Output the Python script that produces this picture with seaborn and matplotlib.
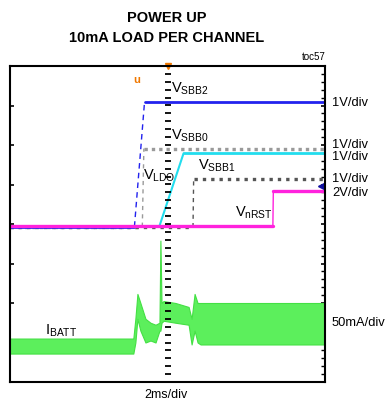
import numpy as np
import pandas as pd
import matplotlib
matplotlib.use('Agg')
import matplotlib.pyplot as plt
import seaborn as sns

sns.set_style('white')
plt.rcParams['font.family'] = ['Liberation Sans', 'DejaVu Sans']
plt.rcParams['mathtext.default'] = 'regular'
plt.rcParams['text.color'] = 'black'

# time in ms (2ms/div, 10 div), level in divisions (0 = bottom, 8 = top)
t_sbb2 = [0, 7.90, 8.54, 20]
v_sbb2 = [3.93, 3.93, 7.08, 7.08]

t_sbb0 = [0, 8.40, 8.50, 20]
v_sbb0 = [3.93, 3.93, 5.91, 5.91]

t_ldo = [0, 9.49, 11.02, 20]
v_ldo = [3.95, 3.95, 5.79, 5.79]

t_sbb1 = [0, 11.62, 11.66, 20]
v_sbb1 = [3.92, 3.92, 5.13, 5.13]

t_nrst = [0, 16.69, 16.72, 20]
v_nrst = [3.94, 3.94, 4.84, 4.84]

# IBATT noise band (lower / upper edge)
t_ib = [0, 7.83, 7.96, 8.09, 8.28, 8.60, 8.92, 9.24, 9.49, 9.55, 9.62, 9.75,
        10.51, 11.34, 11.53, 11.72, 11.91, 12.10, 20]
lo_ib = [0.72, 0.72, 1.00, 1.60, 1.30, 1.00, 1.05, 1.00, 1.30, 1.30, 1.50, 1.55,
         1.50, 1.45, 0.95, 1.30, 1.00, 0.95, 0.95]
hi_ib = [1.10, 1.10, 1.60, 2.23, 2.00, 1.60, 1.50, 1.45, 1.50, 3.58, 2.00, 2.05,
         2.00, 1.90, 1.60, 2.23, 2.00, 2.00, 2.00]

trig_t = 10
ch_arrow = (19.75, 4.97)

W, H = 388, 408
fig = plt.figure(figsize=(W / 100, H / 100), dpi=100)
ax = fig.add_axes([10 / W, 1 - 382 / H, 315 / W, 316 / H])


def trace(t, v, color, lw, ls='-', edge_ls='-', edge_lw=1.0):
    df = pd.DataFrame({'t': t, 'v': v})
    sns.lineplot(data=df.iloc[:2], x='t', y='v', color=color, lw=lw, ls=ls,
                 estimator=None, ax=ax)
    sns.lineplot(data=df.iloc[1:3], x='t', y='v', color=color, lw=edge_lw,
                 ls=edge_ls, estimator=None, ax=ax)
    sns.lineplot(data=df.iloc[2:], x='t', y='v', color=color, lw=lw, ls=ls,
                 estimator=None, ax=ax)


# green current trace
ax.fill_between(t_ib, lo_ib, hi_ib, color='#5cef5c', lw=0.8, edgecolor='#44e044')

trace(t_sbb0, v_sbb0, '#9a9a9a', 2.4, ls=(0, (1, 1.2)), edge_ls=(0, (3, 3)))
trace(t_sbb1, v_sbb1, '#555555', 2.4, ls=(0, (1, 1.5)), edge_ls=(0, (3, 3)))
trace(t_sbb2, v_sbb2, '#2222ee', 2.0, edge_ls=(0, (4, 3)))
trace(t_ldo, v_ldo, '#22ddee', 2.0, edge_lw=1.5)
trace(t_nrst, v_nrst, '#ff22dd', 2.4, edge_lw=1.0)

# scope center graticule
ys = np.arange(0.2, 8, 0.2)
ax.plot(np.full(len(ys), trig_t), ys, ls='none', marker='_', ms=4, mew=1.3,
        color='black')
ax.plot([trig_t], [8], marker='v', ms=5, color='#f07800', clip_on=False)
ax.plot([ch_arrow[0]], [ch_arrow[1]], marker='<', ms=4, color='#1010a0')

ax.set_xlim(0, 20)
ax.set_ylim(0, 8)
ax.set_xticks([])
ax.set_yticks(np.arange(1, 8))
ax.set_yticks(np.arange(0.2, 8, 0.2), minor=True)
ax.tick_params(which='major', left=True, right=True, direction='in', length=3,
               width=1.2, labelleft=False, color='black')
ax.tick_params(which='minor', left=False, right=True, direction='in', length=3,
               width=1, color='black')
ax.set_xlabel('')
ax.set_ylabel('')
for s in ax.spines.values():
    s.set_color('black')
    s.set_linewidth(1.5)


def ftext(xp, yp, s, **kw):
    fig.text(xp / W, 1 - yp / H, s, **kw)


ftext(167, 18, 'POWER UP', ha='center', va='center', fontsize=10.5, fontweight='bold')
ftext(167, 38, '10mA LOAD PER CHANNEL', ha='center', va='center', fontsize=10.5,
      fontweight='bold')
ftext(326, 57, 'toc57', ha='right', va='center', fontsize=7)
ftext(166, 395, '2ms/div', ha='center', va='center', fontsize=9)

for yp, s in [(103, '1V/div'), (145, '1V/div'), (157, '1V/div'), (179, '1V/div'),
              (193, '2V/div'), (323, '50mA/div')]:
    ftext(332, yp, s, ha='left', va='center', fontsize=9.3)

for xp, yp, s in [(171, 93, r'$V_{SBB2}$'), (171, 140, r'$V_{SBB0}$'),
                  (143, 180, r'$V_{LDO}$'), (198, 170, r'$V_{SBB1}$'),
                  (235, 217, r'$V_{nRST}$'), (45, 335, r'$I_{BATT}$')]:
    ftext(xp, yp, s, ha='left', va='baseline', fontsize=10.5)

ftext(137, 80, 'u', ha='center', va='center', fontsize=8, fontweight='bold',
      color='#f07800')

fig.savefig('out.png', dpi=100)
